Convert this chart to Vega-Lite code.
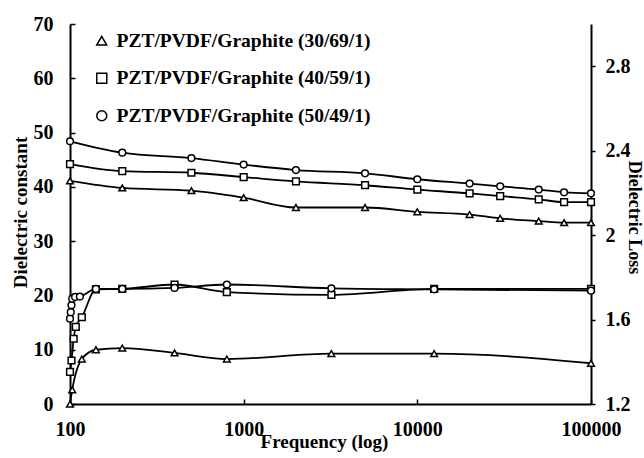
{
  "$schema": "https://vega.github.io/schema/vega-lite/v6.json",
  "width": 521,
  "height": 380,
  "autosize": {"type": "none"},
  "padding": {"left": 70, "top": 24, "right": 53, "bottom": 54},
  "background": "white",
  "config": {"view": {"stroke": null}, "font": "Liberation Serif"},
  "datasets": {
    "upper": [
      {"freq": 100, "value": 41.1, "series": "PZT/PVDF/Graphite (30/69/1)"},
      {"freq": 200, "value": 39.8, "series": "PZT/PVDF/Graphite (30/69/1)"},
      {"freq": 500, "value": 39.3, "series": "PZT/PVDF/Graphite (30/69/1)"},
      {"freq": 1000, "value": 38.0, "series": "PZT/PVDF/Graphite (30/69/1)"},
      {"freq": 2000, "value": 36.2, "series": "PZT/PVDF/Graphite (30/69/1)"},
      {"freq": 5000, "value": 36.2, "series": "PZT/PVDF/Graphite (30/69/1)"},
      {"freq": 10000, "value": 35.4, "series": "PZT/PVDF/Graphite (30/69/1)"},
      {"freq": 20000, "value": 34.9, "series": "PZT/PVDF/Graphite (30/69/1)"},
      {"freq": 30000, "value": 34.2, "series": "PZT/PVDF/Graphite (30/69/1)"},
      {"freq": 50000, "value": 33.7, "series": "PZT/PVDF/Graphite (30/69/1)"},
      {"freq": 70000, "value": 33.4, "series": "PZT/PVDF/Graphite (30/69/1)"},
      {"freq": 100000, "value": 33.4, "series": "PZT/PVDF/Graphite (30/69/1)"},
      {"freq": 100, "value": 44.2, "series": "PZT/PVDF/Graphite (40/59/1)"},
      {"freq": 200, "value": 42.9, "series": "PZT/PVDF/Graphite (40/59/1)"},
      {"freq": 500, "value": 42.6, "series": "PZT/PVDF/Graphite (40/59/1)"},
      {"freq": 1000, "value": 41.8, "series": "PZT/PVDF/Graphite (40/59/1)"},
      {"freq": 2000, "value": 41.0, "series": "PZT/PVDF/Graphite (40/59/1)"},
      {"freq": 5000, "value": 40.3, "series": "PZT/PVDF/Graphite (40/59/1)"},
      {"freq": 10000, "value": 39.5, "series": "PZT/PVDF/Graphite (40/59/1)"},
      {"freq": 20000, "value": 38.8, "series": "PZT/PVDF/Graphite (40/59/1)"},
      {"freq": 30000, "value": 38.3, "series": "PZT/PVDF/Graphite (40/59/1)"},
      {"freq": 50000, "value": 37.7, "series": "PZT/PVDF/Graphite (40/59/1)"},
      {"freq": 70000, "value": 37.2, "series": "PZT/PVDF/Graphite (40/59/1)"},
      {"freq": 100000, "value": 37.2, "series": "PZT/PVDF/Graphite (40/59/1)"},
      {"freq": 100, "value": 48.4, "series": "PZT/PVDF/Graphite (50/49/1)"},
      {"freq": 200, "value": 46.3, "series": "PZT/PVDF/Graphite (50/49/1)"},
      {"freq": 500, "value": 45.3, "series": "PZT/PVDF/Graphite (50/49/1)"},
      {"freq": 1000, "value": 44.1, "series": "PZT/PVDF/Graphite (50/49/1)"},
      {"freq": 2000, "value": 43.1, "series": "PZT/PVDF/Graphite (50/49/1)"},
      {"freq": 5000, "value": 42.5, "series": "PZT/PVDF/Graphite (50/49/1)"},
      {"freq": 10000, "value": 41.4, "series": "PZT/PVDF/Graphite (50/49/1)"},
      {"freq": 20000, "value": 40.6, "series": "PZT/PVDF/Graphite (50/49/1)"},
      {"freq": 30000, "value": 40.1, "series": "PZT/PVDF/Graphite (50/49/1)"},
      {"freq": 50000, "value": 39.5, "series": "PZT/PVDF/Graphite (50/49/1)"},
      {"freq": 70000, "value": 39.0, "series": "PZT/PVDF/Graphite (50/49/1)"},
      {"freq": 100000, "value": 38.8, "series": "PZT/PVDF/Graphite (50/49/1)"}
    ],
    "lower": [
      {"freq": 100, "loss": 1.2, "series": "PZT/PVDF/Graphite (30/69/1)"},
      {"freq": 103, "loss": 1.267, "series": "PZT/PVDF/Graphite (30/69/1)"},
      {"freq": 117, "loss": 1.413, "series": "PZT/PVDF/Graphite (30/69/1)"},
      {"freq": 141, "loss": 1.457, "series": "PZT/PVDF/Graphite (30/69/1)"},
      {"freq": 200, "loss": 1.465, "series": "PZT/PVDF/Graphite (30/69/1)"},
      {"freq": 400, "loss": 1.442, "series": "PZT/PVDF/Graphite (30/69/1)"},
      {"freq": 800, "loss": 1.413, "series": "PZT/PVDF/Graphite (30/69/1)"},
      {"freq": 3200, "loss": 1.439, "series": "PZT/PVDF/Graphite (30/69/1)"},
      {"freq": 12500, "loss": 1.439, "series": "PZT/PVDF/Graphite (30/69/1)"},
      {"freq": 100000, "loss": 1.393, "series": "PZT/PVDF/Graphite (30/69/1)"},
      {"freq": 100, "loss": 1.352, "series": "PZT/PVDF/Graphite (40/59/1)"},
      {"freq": 102, "loss": 1.406, "series": "PZT/PVDF/Graphite (40/59/1)"},
      {"freq": 105, "loss": 1.509, "series": "PZT/PVDF/Graphite (40/59/1)"},
      {"freq": 108, "loss": 1.565, "series": "PZT/PVDF/Graphite (40/59/1)"},
      {"freq": 117, "loss": 1.611, "series": "PZT/PVDF/Graphite (40/59/1)"},
      {"freq": 141, "loss": 1.743, "series": "PZT/PVDF/Graphite (40/59/1)"},
      {"freq": 200, "loss": 1.745, "series": "PZT/PVDF/Graphite (40/59/1)"},
      {"freq": 400, "loss": 1.766, "series": "PZT/PVDF/Graphite (40/59/1)"},
      {"freq": 800, "loss": 1.73, "series": "PZT/PVDF/Graphite (40/59/1)"},
      {"freq": 3200, "loss": 1.717, "series": "PZT/PVDF/Graphite (40/59/1)"},
      {"freq": 12500, "loss": 1.745, "series": "PZT/PVDF/Graphite (40/59/1)"},
      {"freq": 100000, "loss": 1.745, "series": "PZT/PVDF/Graphite (40/59/1)"},
      {"freq": 100, "loss": 1.604, "series": "PZT/PVDF/Graphite (50/49/1)"},
      {"freq": 101, "loss": 1.635, "series": "PZT/PVDF/Graphite (50/49/1)"},
      {"freq": 102, "loss": 1.668, "series": "PZT/PVDF/Graphite (50/49/1)"},
      {"freq": 103, "loss": 1.699, "series": "PZT/PVDF/Graphite (50/49/1)"},
      {"freq": 107, "loss": 1.707, "series": "PZT/PVDF/Graphite (50/49/1)"},
      {"freq": 114, "loss": 1.709, "series": "PZT/PVDF/Graphite (50/49/1)"},
      {"freq": 141, "loss": 1.745, "series": "PZT/PVDF/Graphite (50/49/1)"},
      {"freq": 200, "loss": 1.745, "series": "PZT/PVDF/Graphite (50/49/1)"},
      {"freq": 400, "loss": 1.75, "series": "PZT/PVDF/Graphite (50/49/1)"},
      {"freq": 800, "loss": 1.766, "series": "PZT/PVDF/Graphite (50/49/1)"},
      {"freq": 3200, "loss": 1.748, "series": "PZT/PVDF/Graphite (50/49/1)"},
      {"freq": 12500, "loss": 1.743, "series": "PZT/PVDF/Graphite (50/49/1)"},
      {"freq": 100000, "loss": 1.737, "series": "PZT/PVDF/Graphite (50/49/1)"}
    ]
  },
  "layer": [
    {
      "data": {"name": "upper"},
      "encoding": {
        "x": {
          "field": "freq", "type": "quantitative",
          "scale": {"type": "log", "domain": [100, 100000], "nice": false},
          "axis": {
            "values": [100, 1000, 10000, 100000], "format": "d", "grid": false,
            "title": "Frequency (log)", "titleFont": "Liberation Serif", "titleFontSize": 19,
            "titleFontWeight": "bold", "titleColor": "black", "titleX": 254, "titleY": 43,
            "titleBaseline": "alphabetic", "titleAlign": "center", "titleAnchor": null,
            "labelFont": "Liberation Serif", "labelFontSize": 20, "labelFontWeight": "bold",
            "labelColor": "black", "labelFlush": false, "labelPadding": 20, "labelOverlap": false,
            "domainColor": "black", "domainWidth": 2, "tickColor": "black", "tickWidth": 1.5, "tickSize": -5
          }
        },
        "y": {
          "field": "value", "type": "quantitative",
          "scale": {"domain": [0, 70], "nice": false, "zero": false},
          "axis": {
            "orient": "left", "values": [0, 10, 20, 30, 40, 50, 60, 70], "grid": false,
            "title": "Dielectric constant", "titleFont": "Liberation Serif", "titleFontSize": 19,
            "titleFontWeight": "bold", "titleColor": "black", "titleAngle": 270,
            "titleX": -50, "titleY": 188, "titleBaseline": "middle", "titleAlign": "center", "titleAnchor": null,
            "labelFont": "Liberation Serif", "labelFontSize": 20, "labelFontWeight": "bold",
            "labelColor": "black", "labelFlush": false, "labelPadding": 22, "labelOverlap": false,
            "domainColor": "black", "domainWidth": 2, "tickColor": "black", "tickWidth": 1.5, "tickSize": -5
          }
        }
      },
      "layer": [
        {
          "mark": {"type": "line", "interpolate": "monotone", "color": "black", "strokeWidth": 1.8},
          "encoding": {"detail": {"field": "series"}}
        },
        {
          "mark": {"type": "point", "filled": true, "fill": "white", "stroke": "black", "strokeWidth": 1.5, "size": 45, "opacity": 1},
          "encoding": {
            "shape": {
              "field": "series", "type": "nominal",
              "scale": {
                "domain": ["PZT/PVDF/Graphite (30/69/1)", "PZT/PVDF/Graphite (40/59/1)", "PZT/PVDF/Graphite (50/49/1)"],
                "range": ["triangle-up", "square", "circle"]
              },
              "legend": {
                "orient": "none", "legendX": 22, "legendY": 7, "title": null,
                "labelFont": "Liberation Serif", "labelFontSize": 19.5, "labelFontWeight": "bold",
                "labelColor": "black", "labelLimit": 400, "labelOffset": 5, "rowPadding": 16.5,
                "encode": {
                  "symbols": {
                    "shape": {"value": {"expr": "datum.value === 'PZT/PVDF/Graphite (30/69/1)' ? 'M-2.5,0H-0.51M0.51,0H2.5M0,-0.9L0.9,0.7H-0.9Z' : datum.value === 'PZT/PVDF/Graphite (40/59/1)' ? 'M-2.5,0H-0.76M0.76,0H2.5M-0.76,-0.76H0.76V0.76H-0.76Z' : 'M-2.5,0H-0.8M0.8,0H2.5M-0.8,0A0.8,0.8,0,1,1,0.8,0A0.8,0.8,0,1,1,-0.8,0Z'"}}
                  }
                }
              }
            }
          }
        }
      ]
    },
    {
      "data": {"name": "lower"},
      "encoding": {
        "x": {"field": "freq", "type": "quantitative", "scale": {"type": "log", "domain": [100, 100000], "nice": false}},
        "y": {
          "field": "loss", "type": "quantitative",
          "scale": {"domain": [1.2, 3.0], "nice": false, "zero": false},
          "axis": {
            "orient": "right", "values": [1.2, 1.6, 2, 2.4, 2.8], "format": ".2~f", "grid": false,
            "title": "Dielectric Loss", "titleFont": "Liberation Serif", "titleFontSize": 18,
            "titleFontWeight": "bold", "titleColor": "black", "titleAngle": 90,
            "titleX": 42, "titleY": 193, "titleBaseline": "middle", "titleAlign": "center", "titleAnchor": null,
            "labelFont": "Liberation Serif", "labelFontSize": 20, "labelFontWeight": "bold",
            "labelColor": "black", "labelFlush": false, "labelPadding": 10, "labelOverlap": false,
            "domainColor": "black", "domainWidth": 2, "tickColor": "black", "tickWidth": 1.5, "tickSize": 4
          }
        }
      },
      "layer": [
        {
          "mark": {"type": "line", "interpolate": "monotone", "color": "black", "strokeWidth": 1.8},
          "encoding": {"detail": {"field": "series"}}
        },
        {
          "mark": {"type": "point", "filled": true, "fill": "white", "stroke": "black", "strokeWidth": 1.5, "size": 45, "opacity": 1},
          "encoding": {"shape": {"field": "series", "type": "nominal", "legend": null}}
        }
      ]
    }
  ],
  "resolve": {"scale": {"y": "independent"}}
}
